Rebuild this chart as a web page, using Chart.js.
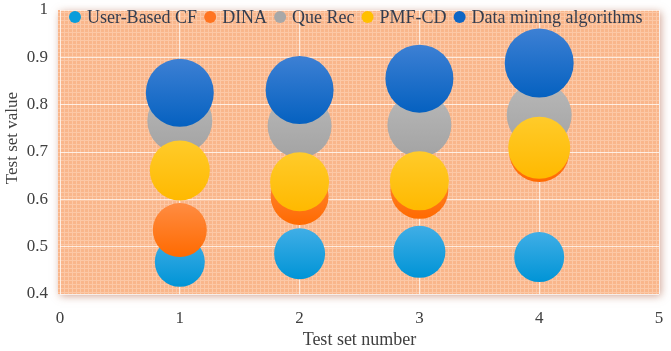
<!DOCTYPE html>
<html>
<head>
<meta charset="utf-8">
<script src="https://cdn.jsdelivr.net/npm/chart.js@4.4.1/dist/chart.umd.min.js"></script>
<style>
  html, body { margin: 0; padding: 0; background: #ffffff; }
  #wrap { width: 671px; height: 351px; position: relative; }
</style>
</head>
<body>
<div id="wrap"><canvas id="c" width="671" height="351"></canvas></div>
<script>
// ---- Data ----
const testSets = [1, 2, 3, 4];
const seriesNames = ["User-Based CF", "DINA", "Que Rec", "PMF-CD", "Data mining algorithms"];
const userBasedCF = [0.468, 0.485, 0.489, 0.478];
const dina        = [0.535, 0.607, 0.620, 0.700];
const queRec      = [0.766, 0.755, 0.757, 0.778];
const pmfCd       = [0.661, 0.637, 0.639, 0.709];
const dataMining  = [0.825, 0.831, 0.855, 0.888];
// bubble sizes (third dimension)
const userBasedCFSize = [25, 25.5, 26, 25];
const dinaSize        = [27, 29, 29, 30];
const queRecSize      = [32.5, 32, 32, 32.5];
const pmfCdSize       = [30, 29.5, 29.5, 31];
const dataMiningSize  = [34, 34, 34, 34.5];
const xTicks = [0, 1, 2, 3, 4, 5];
const yTicks = [0.4, 0.5, 0.6, 0.7, 0.8, 0.9, 1];

const seriesValues = [userBasedCF, dina, queRec, pmfCd, dataMining];
const seriesSizes = [userBasedCFSize, dinaSize, queRecSize, pmfCdSize, dataMiningSize];
const colorTop =    ["#40aee6", "#ff8c42", "#b8b8b8", "#ffcb2a", "#3d80d4"];
const colorBottom = ["#0094d6", "#ff6a00", "#a3a3a3", "#ffb900", "#0561c0"];
const legendColor = ["#0a9ddb", "#ff7420", "#a8a8a8", "#ffc000", "#0f66c4"];

function gradFill(i) {
  return function(ctx) {
    const chart = ctx.chart;
    const raw = ctx.raw;
    if (!raw || !chart.scales || !chart.scales.y) return colorBottom[i];
    const py = chart.scales.y.getPixelForValue(raw.y);
    if (!isFinite(py) || !isFinite(raw.r)) return colorBottom[i];
    const g = chart.ctx.createLinearGradient(0, py - raw.r, 0, py + raw.r);
    g.addColorStop(0, colorTop[i]);
    g.addColorStop(1, colorBottom[i]);
    return g;
  };
}

const datasets = seriesNames.map((name, i) => ({
  label: name,
  data: testSets.map((x, k) => ({ x: x, y: seriesValues[i][k], r: seriesSizes[i][k] })),
  backgroundColor: gradFill(i),
  hoverBackgroundColor: gradFill(i),
  borderWidth: 0,
  hoverBorderWidth: 0,
  clip: false,
  order: seriesNames.length - i
}));

// pattern for the plot background
function makePattern(ctx) {
  const p = document.createElement('canvas');
  p.width = 4; p.height = 4;
  const pc = p.getContext('2d');
  pc.fillStyle = '#f9b68b';
  pc.fillRect(0, 0, 4, 4);
  pc.fillStyle = '#fcc8a6';
  pc.fillRect(0, 0, 4, 1);
  pc.fillRect(0, 0, 1, 4);
  return ctx.createPattern(p, 'repeat');
}

const bgPlugin = {
  id: 'bgPlugin',
  beforeDraw(chart) {
    const { ctx, chartArea: a } = chart;
    ctx.save();
    ctx.shadowColor = 'rgba(170, 90, 60, 0.55)';
    ctx.shadowBlur = 8;
    ctx.shadowOffsetX = 2;
    ctx.shadowOffsetY = 2;
    ctx.fillStyle = '#f9b68b';
    ctx.fillRect(a.left - 2, a.top, a.right - a.left + 2, a.bottom - a.top);
    ctx.restore();
    ctx.save();
    ctx.fillStyle = makePattern(ctx);
    ctx.fillRect(a.left - 2, a.top, a.right - a.left + 2, a.bottom - a.top);
    ctx.restore();
  },
  afterDraw(chart) {
    const { ctx } = chart;
    // legend inside plot area
    ctx.save();
    ctx.font = '18px "Liberation Serif", "Times New Roman", serif';
    ctx.textBaseline = 'middle';
    ctx.textAlign = 'left';
    let x = 75;
    const y = 17;
    seriesNames.forEach((name, i) => {
      ctx.beginPath();
      ctx.arc(x, y, 6, 0, Math.PI * 2);
      ctx.fillStyle = legendColor[i];
      ctx.fill();
      ctx.fillStyle = '#333d4f';
      ctx.fillText(name, x + 12, y + 1);
      x += 12 + ctx.measureText(name).width + 13;
    });
    // y axis title
    ctx.translate(13, 138);
    ctx.rotate(-Math.PI / 2);
    ctx.textAlign = 'center';
    ctx.fillStyle = '#404040';
    ctx.font = '17px "Liberation Serif", "Times New Roman", serif';
    ctx.fillText('Test set value', 0, 0);
    ctx.restore();
  }
};

const tickFont = { family: '"Liberation Serif", "Times New Roman", serif', size: 17 };

new Chart(document.getElementById('c'), {
  type: 'bubble',
  data: { datasets: datasets },
  options: {
    responsive: false,
    animation: false,
    devicePixelRatio: 1,
    layout: { autoPadding: false, padding: { top: 10, right: 12, left: 0, bottom: 0 } },
    plugins: { legend: { display: false }, tooltip: { enabled: false } },
    events: [],
    scales: {
      x: {
        type: 'linear',
        min: xTicks[0], max: xTicks[xTicks.length - 1],
        afterBuildTicks(s) { s.ticks = xTicks.map(v => ({ value: v })); },
        afterFit(s) { s.height = 57; s.paddingLeft = 0; s.paddingRight = 0; },
        grid: { color: 'rgba(255,255,255,0.7)', lineWidth: 1, drawTicks: false },
        border: { display: false },
        ticks: { font: tickFont, color: '#404040', padding: 14 },
        title: { display: true, text: 'Test set number', font: { family: tickFont.family, size: 18 }, color: '#404040', padding: { top: 0, bottom: 0 } }
      },
      y: {
        type: 'linear',
        min: yTicks[0], max: yTicks[yTicks.length - 1],
        afterBuildTicks(s) { s.ticks = yTicks.map(v => ({ value: v })); },
        afterFit(s) { s.width = 60; s.paddingTop = 0; s.paddingBottom = 0; },
        grid: { color: 'rgba(255,255,255,0.7)', lineWidth: 1, drawTicks: false },
        border: { display: false },
        ticks: { font: tickFont, color: '#404040', padding: 12, callback: v => String(Number(v.toFixed(1))) }
      }
    }
  },
  plugins: [bgPlugin]
});
</script>
</body>
</html>
